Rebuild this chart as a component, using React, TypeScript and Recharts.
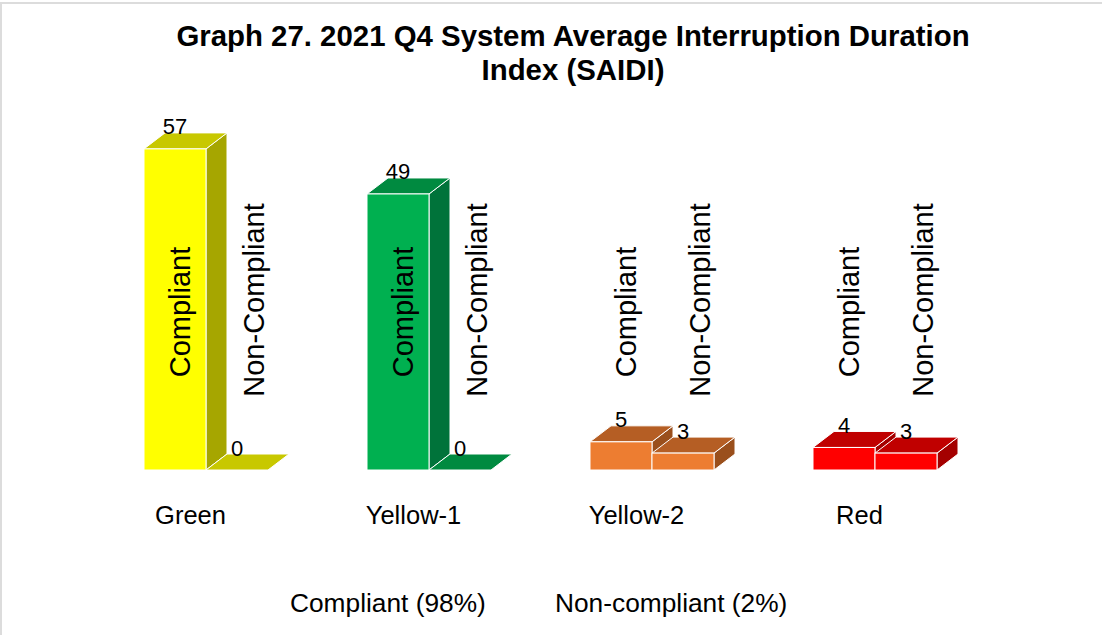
import React from "react";
import { BarChart, Bar, XAxis, YAxis, LabelList, Legend } from "recharts";

const categories = ["Green", "Yellow-1", "Yellow-2", "Red"];
const compliantValues = [57, 49, 5, 4];
const nonCompliantValues = [0, 0, 3, 3];
const seriesNames = ["Compliant", "Non-Compliant"];
const legendLabels = ["Compliant (98%)", "Non-compliant (2%)"];
const chartTitle = ["Graph 27. 2021 Q4 System Average Interruption Duration", "Index (SAIDI)"];

// face colours per category (front / top / side)
const FRONT = ["#ffff00", "#00b050", "#ed7d31", "#ff0000"];
const TOP = ["#c8c800", "#008a40", "#b55e24", "#c00000"];
const SIDE = ["#a6a600", "#00733a", "#9a4f1c", "#a40000"];

const DX = 21;
const DY = -16;
const FONT = "'Liberation Sans', Arial, sans-serif";

const data = categories.map((name, i) => ({
  name,
  compliant: compliantValues[i],
  nonCompliant: nonCompliantValues[i],
}));

function Box3D(props: any) {
  const { x, y, width, height, index } = props;
  const w = width;
  const h = Math.max(0, height);
  const front = FRONT[index];
  const top = TOP[index];
  const side = SIDE[index];
  const topPts = `${x},${y} ${x + DX},${y + DY} ${x + w + DX},${y + DY} ${x + w},${y}`;
  const sidePts = `${x + w},${y} ${x + w + DX},${y + DY} ${x + w + DX},${y + h + DY} ${x + w},${y + h}`;
  return (
    <g>
      {h > 0 && <polygon points={sidePts} fill={side} stroke="#fff" strokeWidth={1} />}
      <polygon points={topPts} fill={top} stroke="#fff" strokeWidth={1} />
      {h > 0 && <rect x={x} y={y} width={w} height={h} fill={front} stroke="#fff" strokeWidth={1} />}
    </g>
  );
}

function ValueLabel(props: any) {
  const { x, y, width, value } = props;
  return (
    <text
      x={x + width / 2}
      y={y + DY - 6}
      textAnchor="middle"
      dominantBaseline="central"
      fontSize={22}
      fontFamily={FONT}
      fill="#000"
    >
      {value}
    </text>
  );
}

function makeNameLabel(name: string, dx: number, cy: number) {
  return (props: any) => {
    const { x, width } = props;
    const cx = x + width / 2 + dx;
    return (
      <text
        x={cx}
        y={cy}
        transform={`rotate(-90, ${cx}, ${cy})`}
        textAnchor="middle"
        dominantBaseline="central"
        fontSize={29}
        fontFamily={FONT}
        fill="#000"
      >
        {name}
      </text>
    );
  };
}

function CategoryTick(props: any) {
  const { x, y, payload } = props;
  return (
    <text
      x={x - 15}
      y={y + 37}
      textAnchor="middle"
      dominantBaseline="central"
      fontSize={25.5}
      fontFamily={FONT}
      fill="#000"
    >
      {payload.value}
    </text>
  );
}

function LegendText() {
  const lefts = [290, 555];
  return (
    <div style={{ position: "relative", height: 36, fontFamily: FONT, fontSize: 26.3, color: "#000" }}>
      {legendLabels.map((l, i) => (
        <span key={l} style={{ position: "absolute", left: lefts[i], top: 0, whiteSpace: "nowrap" }}>
          {l}
        </span>
      ))}
    </div>
  );
}

export default function App() {
  return (
    <div style={{ position: "absolute", left: 0, top: 0, width: 1102, height: 635, background: "#fff", overflow: "hidden" }}>
      <div
        style={{
          position: "absolute",
          left: 0,
          top: 2,
          width: 1200,
          height: 700,
          borderTop: "2px solid #dcdcdc",
          borderLeft: "2px solid #dcdcdc",
        }}
      />
      <div
        style={{
          position: "absolute",
          left: 0,
          top: 19,
          width: 1146,
          textAlign: "center",
          fontFamily: FONT,
          fontWeight: "bold",
          fontSize: 29.4,
          lineHeight: "34px",
          color: "#000",
        }}
      >
        {chartTitle.map((t) => (
          <div key={t}>{t}</div>
        ))}
      </div>
      <BarChart
        width={1102}
        height={635}
        data={data}
        margin={{ top: 132, right: 116, bottom: 125, left: 94 }}
        barGap={0}
        barSize={62}
      >
        <XAxis dataKey="name" axisLine={false} tickLine={false} height={40} tick={<CategoryTick />} interval={0} />
        <YAxis hide domain={[0, 60]} />
        <Legend
          layout="horizontal"
          verticalAlign="middle"
          align="center"
          content={<LegendText />}
          wrapperStyle={{ top: 588, left: 0, width: 1102 }}
        />
        <Bar dataKey="compliant" name={seriesNames[0]} shape={<Box3D />} isAnimationActive={false}>
          <LabelList dataKey="compliant" content={<ValueLabel />} />
          <LabelList dataKey="compliant" content={makeNameLabel(seriesNames[0], 5, 312)} />
        </Bar>
        <Bar dataKey="nonCompliant" name={seriesNames[1]} shape={<Box3D />} isAnimationActive={false}>
          <LabelList dataKey="nonCompliant" content={<ValueLabel />} />
          <LabelList dataKey="nonCompliant" content={makeNameLabel(seriesNames[1], 17, 300)} />
        </Bar>
      </BarChart>
    </div>
  );
}
